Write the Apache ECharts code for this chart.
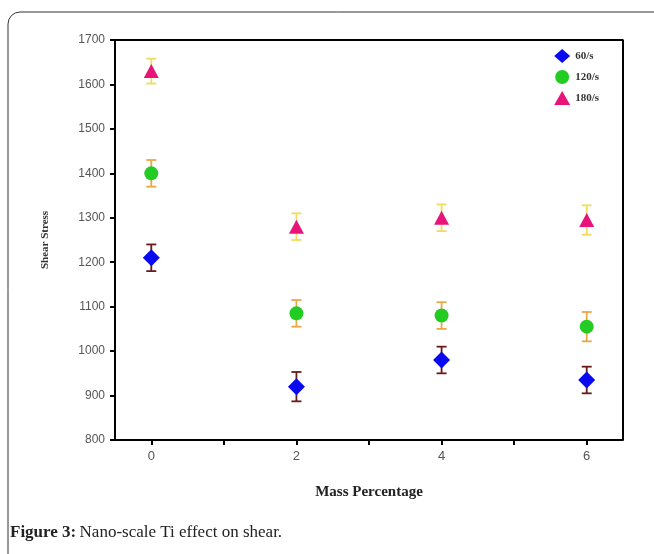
<!DOCTYPE html>
<html>
<head>
<meta charset="utf-8">
<script src="https://cdn.jsdelivr.net/npm/echarts@6/dist/echarts.min.js"></script>
<style>
  html, body { margin: 0; padding: 0; background: #fff; }
  #main { width: 654px; height: 554px; }
</style>
</head>
<body>
<div id="main"></div>
<script>
// mass percentage (x) and shear stress readings per shear rate
var massPct = [0, 2, 4, 6];
var names = ['60/s', '120/s', '180/s'];
var rate60 = [1210, 920, 980, 935];
var rate120 = [1400, 1085, 1080, 1055];
var rate180 = [1630, 1280, 1300, 1295];
var err60 = [30, 33, 30, 30];
var err120 = [30, 30, 30, 33];
var err180 = [28, 30, 30, 33];
var xTicks = [0, 1, 2, 3, 4, 5, 6];
var xLabels = [0, 2, 4, 6];

var chart = echarts.init(document.getElementById('main'));

function pts(vals) {
    var out = [];
    for (var i = 0; i < vals.length; i++) out.push([massPct[i], vals[i]]);
    return out;
}
function errs(vals, e) {
    var out = [];
    for (var i = 0; i < vals.length; i++) out.push([massPct[i], vals[i] - e[i], vals[i] + e[i]]);
    return out;
}
// error bar drawn through the axes
function errorBar(color) {
    return function (params, api) {
        var lo = api.coord([api.value(0), api.value(1)]);
        var hi = api.coord([api.value(0), api.value(2)]);
        var w = 5;
        var st = { stroke: color, lineWidth: 1.8 };
        return {
            type: 'group',
            children: [
                { type: 'line', shape: { x1: lo[0], y1: lo[1], x2: hi[0], y2: hi[1] }, style: st },
                { type: 'line', shape: { x1: lo[0] - w, y1: lo[1], x2: lo[0] + w, y2: lo[1] }, style: st },
                { type: 'line', shape: { x1: hi[0] - w, y1: hi[1], x2: hi[0] + w, y2: hi[1] }, style: st }
            ]
        };
    };
}

var option = {
    backgroundColor: '#fff',
    animation: false,
    grid: { left: 115, right: 31, top: 40, bottom: 114 },
    graphic: [
        {
            type: 'rect',
            shape: { x: 8, y: 12, width: 660, height: 560, r: 12 },
            style: { fill: 'none', stroke: '#333', lineWidth: 1 },
            silent: true
        },
        {
            type: 'text',
            left: 10, top: 524,
            style: {
                rich: {
                    b: { fontFamily: 'Liberation Serif', fontSize: 17, fontWeight: 'bold', fill: '#222' },
                    n: { fontFamily: 'Liberation Serif', fontSize: 17, fill: '#222' }
                },
                text: '{b|Figure 3:} {n|Nano-scale Ti effect on shear.}'
            }
        }
    ],
    legend: {
        orient: 'vertical',
        right: 50, top: 44,
        itemGap: 7,
        itemWidth: 16, itemHeight: 14,
        textStyle: { fontFamily: 'Liberation Serif', fontSize: 11, fontWeight: 'bold', color: '#333' },
        data: names
    },
    xAxis: {
        type: 'value',
        min: -0.5, max: 6.5,
        name: 'Mass Percentage',
        nameLocation: 'middle',
        nameGap: 45,
        nameTextStyle: { fontFamily: 'Liberation Serif', fontSize: 15, fontWeight: 'bold', color: '#222' },
        axisLine: { onZero: false, lineStyle: { color: '#000', width: 2 } },
        axisTick: { show: true, length: 5, customValues: xTicks, lineStyle: { color: '#000', width: 2 } },
        axisLabel: {
            color: '#555', fontSize: 13, fontFamily: 'Liberation Sans', margin: 10,
            customValues: xLabels,
            formatter: function (v) { return String(v); }
        },
        splitLine: { show: false }
    },
    yAxis: {
        type: 'value',
        min: 800, max: 1700, interval: 100,
        name: 'Shear Stress',
        nameLocation: 'middle',
        nameGap: 64,
        nameTextStyle: { fontFamily: 'Liberation Serif', fontSize: 11, fontWeight: 'bold', color: '#333' },
        axisLine: { onZero: false, lineStyle: { color: '#000', width: 2 } },
        axisTick: { show: true, length: 5, lineStyle: { color: '#000', width: 2 } },
        axisLabel: {
            color: '#555', fontSize: 12, fontFamily: 'Liberation Sans', margin: 10,
            formatter: function (v) { return String(v); }
        },
        splitLine: { show: false }
    },
    series: [
        { type: 'custom', renderItem: errorBar('#6b1a1a'), data: errs(rate60, err60), z: 1, silent: true },
        { type: 'custom', renderItem: errorBar('#e8a848'), data: errs(rate120, err120), z: 1, silent: true },
        { type: 'custom', renderItem: errorBar('#f0dc60'), data: errs(rate180, err180), z: 1, silent: true },
        { name: names[0], type: 'scatter', symbol: 'diamond', symbolSize: [17, 17], itemStyle: { color: '#0a0af0', opacity: 1 }, data: pts(rate60), z: 3 },
        { name: names[1], type: 'scatter', symbol: 'circle', symbolSize: 14, itemStyle: { color: '#22cc22', opacity: 1 }, data: pts(rate120), z: 3 },
        { name: names[2], type: 'scatter', symbol: 'triangle', symbolSize: [15, 14], itemStyle: { color: '#e8147a', opacity: 1 }, data: pts(rate180), z: 3 },
        // right and top frame lines
        {
            type: 'line', data: [[6.5, 800], [6.5, 1700], [-0.5, 1700]], symbol: 'none',
            lineStyle: { color: '#000', width: 2 }, silent: true, z: 2
        }
    ]
};
chart.setOption(option);
</script>
</body>
</html>
